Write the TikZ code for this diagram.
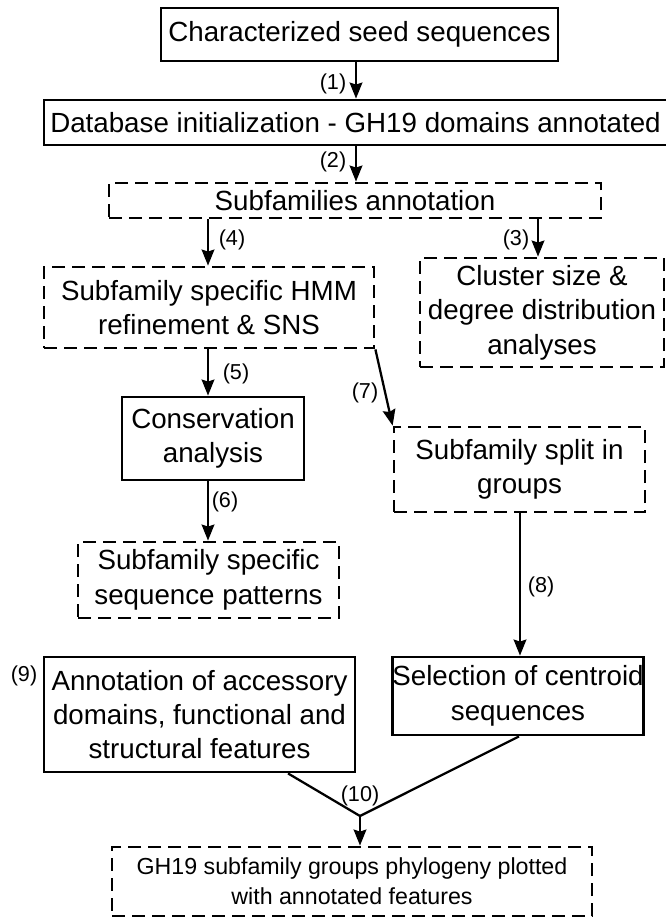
\documentclass[tikz,border=0pt]{standalone}
\usepackage{fontspec}
\setmainfont{Liberation Sans}
\usetikzlibrary{arrows.meta}
\newcommand{\mainfs}{\fontsize{20.8pt}{25.8pt}\selectfont}
\newcommand{\labfs}{\fontsize{16.2pt}{18pt}\selectfont}
\newcommand{\smallfs}{\fontsize{17.4pt}{22.5pt}\selectfont}
\begin{document}
\begin{tikzpicture}[x=0.75pt,y=-0.75pt,
  box/.style={draw, line width=2.1pt, align=center, inner sep=0pt, font=\mainfs},
  dbox/.style={box, dash pattern=on 9.5pt off 5.5pt},
  arr/.style={line width=1.7pt, -{Stealth[length=12pt,width=9.5pt,inset=1.5pt]}},
  conn/.style={line width=1.7pt},
  lab/.style={font=\labfs, inner sep=0pt}]
\useasboundingbox (0,0) rectangle (665,917);

% boxes
\node[box, minimum width=297.75pt, minimum height=39.75pt] (B1) at (359.5,34.5) {Characterized seed sequences};
\node[box, minimum width=467.25pt, minimum height=33.75pt] (B2) at (355.5,122.5) {Database initialization - GH19 domains annotated};
\node[dbox, minimum width=369pt, minimum height=26.25pt] (B3) at (355,200.5) {Subfamilies annotation};
\node[dbox, minimum width=247.5pt, minimum height=60.75pt] (B4) at (209,307.5) {Subfamily specific HMM\\refinement \& SNS};
\node[dbox, minimum width=183pt, minimum height=81.75pt] (B5) at (542,312.5) {Cluster size \&\\degree distribution\\analyses};
\node[box, minimum width=136.5pt, minimum height=62.25pt] (B6) at (213,438.5) {Conservation\\analysis};
\node[dbox, minimum width=188.25pt, minimum height=63.75pt] (B7) at (519.5,469.5) {Subfamily split in\\groups};
\node[dbox, minimum width=195.75pt, minimum height=57pt] (B8) at (208.5,580) {Subfamily specific\\sequence patterns};
\node[box, minimum width=233.25pt, minimum height=86.25pt] (B9) at (199.5,714.5) {Annotation of accessory\\domains, functional and\\structural features};
\node[box, minimum width=183pt, minimum height=58.5pt] (B10) at (518,696) {Selection of centroid\\sequences};
\node[dbox, font=\smallfs, minimum width=360pt, minimum height=51.75pt] (B11) at (352,881.5) {GH19 subfamily groups phylogeny plotted\\with annotated features};

% helper coordinates for connector x positions
\coordinate (xA) at (356,0);
\coordinate (xL) at (208,0);
\coordinate (xR) at (538,0);
\coordinate (x8) at (520,0);
\coordinate (p9) at (288,0);
\coordinate (p10) at (519,0);
\coordinate (J) at (360,816);

% connectors
\draw[arr] (B1.south -| xA) -- (B2.north -| xA);
\draw[arr] (B2.south -| xA) -- (B3.north -| xA);
\draw[arr] (B3.south -| xL) -- (B4.north -| xL);
\draw[arr] (B3.south -| xR) -- (B5.north -| xR);
\draw[arr] (B4.south -| xL) -- (B6.north -| xL);
\draw[arr] (B4.south east) -- (B7.north west);
\draw[arr] (B6.south -| xL) -- (B8.north -| xL);
\draw[arr] (B7.south -| x8) -- (B10.north -| x8);
\draw[conn] (B9.south -| p9) -- (J);
\draw[conn] (B10.south -| p10) -- (J);
\draw[arr] (J) -- (B11.north -| J);

% labels
\node[lab] (L1) at (333,84) {(1)};
\node[lab] (L2) at (333,162) {(2)};
\node[lab] (L4) at (232,240) {(4)};
\node[lab] (L3) at (516,240) {(3)};
\node[lab] (L5) at (236,374) {(5)};
\node[lab] (L7) at (365,393) {(7)};
\node[lab] (L6) at (225,502) {(6)};
\node[lab] (L8) at (541,587) {(8)};
\node[lab] (L9) at (24,676) {(9)};
\node[lab] (L10) at (360,796) {(10)};
\end{tikzpicture}
\end{document}
